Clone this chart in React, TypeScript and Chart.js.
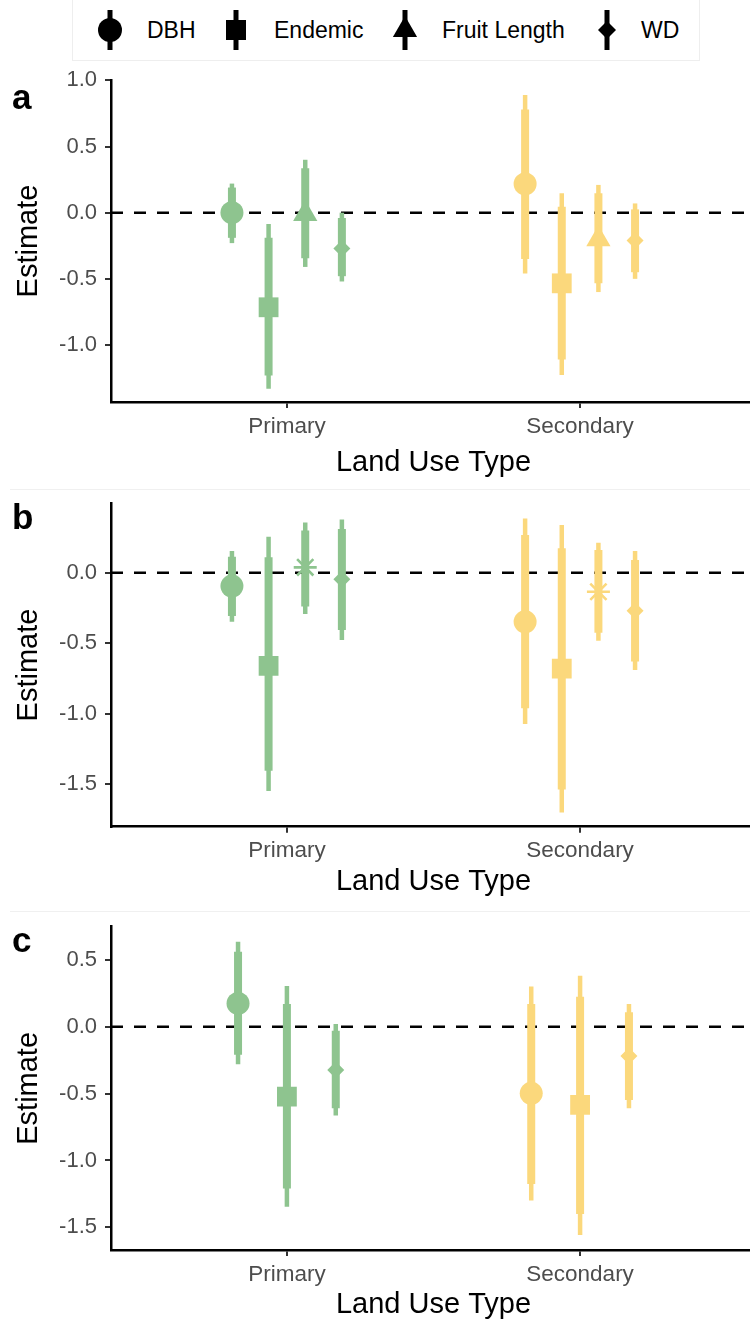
import React, { useEffect, useRef } from 'react';
import { Chart, registerables } from 'chart.js';

Chart.register(...registerables);

const FONT = '"Liberation Sans", Arial, Helvetica, sans-serif';

// ---------- shared categories ----------
const landUse = ['Primary', 'Secondary'];
const landUseColors = ['#8EC48F', '#FBD87C'];
const legendTraits = ['DBH', 'Endemic', 'Fruit Length', 'WD'];

// ---------- panel a (values per trait: [Primary, Secondary]) ----------
const aTraits = ['DBH', 'Endemic', 'Fruit Length', 'WD'];
const aShapes = ['circle', 'rect', 'triangle', 'rectRot'];
const aEst = [[0.0, 0.217], [-0.715, -0.534], [-0.01, -0.2], [-0.27, -0.21]];
const aInnerLo = [[-0.19, -0.35], [-1.23, -1.11], [-0.345, -0.534], [-0.48, -0.45]];
const aInnerHi = [[0.19, 0.78], [-0.19, 0.045], [0.335, 0.146], [-0.04, 0.025]];
const aOuterLo = [[-0.23, -0.46], [-1.33, -1.227], [-0.41, -0.6], [-0.52, -0.5]];
const aOuterHi = [[0.22, 0.89], [-0.086, 0.146], [0.4, 0.21], [0.0, 0.07]];
const aYTicks = [-1.0, -0.5, 0.0, 0.5, 1.0];

// ---------- panel b ----------
const bTraits = ['DBH', 'Endemic', 'Fruit Length', 'WD'];
const bShapes = ['circle', 'rect', 'star', 'rectRot'];
const bEst = [[-0.095, -0.348], [-0.66, -0.68], [0.038, -0.135], [-0.047, -0.27]];
const bInnerLo = [[-0.307, -0.962], [-1.404, -1.537], [-0.24, -0.425], [-0.407, -0.63]];
const bInnerHi = [[0.113, 0.267], [0.109, 0.173], [0.3, 0.16], [0.31, 0.09]];
const bOuterLo = [[-0.347, -1.073], [-1.548, -1.7], [-0.293, -0.482], [-0.478, -0.69]];
const bOuterHi = [[0.154, 0.385], [0.255, 0.338], [0.355, 0.213], [0.378, 0.154]];
const bYTicks = [-1.5, -1.0, -0.5, 0.0];

// ---------- panel c ----------
const cTraits = ['DBH', 'Endemic', 'WD'];
const cShapes = ['circle', 'rect', 'rectRot'];
const cEst = [[0.174, -0.498], [-0.523, -0.585], [-0.324, -0.219]];
const cInnerLo = [[-0.21, -1.176], [-1.21, -1.4], [-0.61, -0.548]];
const cInnerHi = [[0.56, 0.17], [0.17, 0.224], [-0.03, 0.107]];
const cOuterLo = [[-0.28, -1.3], [-1.345, -1.557], [-0.663, -0.61]];
const cOuterHi = [[0.635, 0.3], [0.304, 0.38], [0.02, 0.17]];
const cYTicks = [-1.5, -1.0, -0.5, 0.0, 0.5];

const shapeRadius: Record<string, number> = {
  circle: 11.5,
  rect: 14,
  triangle: 14,
  rectRot: 8.5,
  star: 11.5,
};

type PanelProps = {
  top: number;
  height: number;
  padTop: number;
  xAxisHeight: number;
  titlePadBottom: number;
  yMin: number;
  yMax: number;
  traits: string[];
  shapes: string[];
  est: number[][];
  innerLo: number[][];
  innerHi: number[][];
  outerLo: number[][];
  outerHi: number[][];
  yTicks: number[];
};

const CANVAS_W = 756;
const X_MIN = 0.4;
const X_MAX = 2.6;
const DODGE = 0.5;

function Panel(p: PanelProps) {
  const ref = useRef<HTMLCanvasElement | null>(null);
  useEffect(() => {
    if (!ref.current) return;
    const n = p.traits.length;
    const offs = p.traits.map((_, i) => -DODGE / 2 + (DODGE / n) * (i + 0.5));
    const datasets: any[] = [];
    // points (top)
    p.traits.forEach((t, ti) => {
      const style = p.shapes[ti];
      datasets.push({
        type: 'scatter',
        label: t,
        data: landUse.map((_, g) => ({ x: g + 1 + offs[ti], y: p.est[ti][g] })),
        pointStyle: style,
        pointRadius: shapeRadius[style],
        pointBackgroundColor: landUseColors,
        pointBorderColor: landUseColors,
        pointBorderWidth: style === 'star' ? 2.6 : 0,
        order: 0,
      });
    });
    // intervals
    p.traits.forEach((t, ti) => {
      landUse.forEach((_, g) => {
        const x = g + 1 + offs[ti];
        datasets.push({
          type: 'line',
          label: t + ' inner',
          data: [{ x, y: p.innerLo[ti][g] }, { x, y: p.innerHi[ti][g] }],
          borderColor: landUseColors[g],
          borderWidth: 8,
          borderCapStyle: 'butt',
          pointRadius: 0,
          order: 1,
        });
        datasets.push({
          type: 'line',
          label: t + ' outer',
          data: [{ x, y: p.outerLo[ti][g] }, { x, y: p.outerHi[ti][g] }],
          borderColor: landUseColors[g],
          borderWidth: 4.5,
          borderCapStyle: 'butt',
          pointRadius: 0,
          order: 2,
        });
      });
    });
    // zero reference
    datasets.push({
      type: 'line',
      label: 'zero',
      data: [{ x: X_MIN, y: 0 }, { x: X_MAX, y: 0 }],
      borderColor: '#000',
      borderWidth: 2.5,
      borderDash: [12, 11],
      borderCapStyle: 'butt',
      pointRadius: 0,
      order: 5,
    });

    const chart = new Chart(ref.current, {
      type: 'scatter',
      data: { datasets },
      options: {
        animation: false,
        responsive: false,
        maintainAspectRatio: false,
        events: [],
        layout: { autoPadding: false, padding: { top: p.padTop, left: 0, right: 0, bottom: 0 } },
        plugins: { legend: { display: false }, tooltip: { enabled: false } },
        scales: {
          x: {
            type: 'linear',
            min: X_MIN,
            max: X_MAX,
            afterBuildTicks: (s: any) => {
              s.ticks = landUse.map((_, i) => ({ value: i + 1 }));
            },
            afterFit: (s: any) => {
              s.height = p.xAxisHeight;
            },
            ticks: {
              autoSkip: false,
              maxRotation: 0,
              color: '#4D4D4D',
              font: { size: 22.5, family: FONT },
              padding: 5,
              callback: (v: any) => landUse[Math.round(Number(v)) - 1] ?? '',
            },
            grid: { drawOnChartArea: false, drawTicks: true, tickLength: 6, color: '#333', lineWidth: 2 },
            border: { display: true, color: '#000', width: 2.5 },
            title: {
              display: true,
              text: 'Land Use Type',
              color: '#000',
              font: { size: 29, family: FONT },
              padding: { top: 0, bottom: p.titlePadBottom },
            },
          },
          y: {
            type: 'linear',
            min: p.yMin,
            max: p.yMax,
            afterBuildTicks: (s: any) => {
              s.ticks = p.yTicks.map((v) => ({ value: v }));
            },
            afterFit: (s: any) => {
              s.width = 111;
            },
            ticks: {
              color: '#4D4D4D',
              font: { size: 22, family: FONT },
              padding: 8,
              callback: (v: any) => Number(v).toFixed(1),
            },
            grid: { drawOnChartArea: false, drawTicks: true, tickLength: 6, color: '#333', lineWidth: 2 },
            border: { display: true, color: '#000', width: 2.5 },
            title: {
              display: true,
              text: 'Estimate',
              color: '#000',
              font: { size: 29, family: FONT },
              padding: { top: 12, bottom: 0 },
            },
          },
        },
      } as any,
    });
    return () => chart.destroy();
  }, []);
  return (
    <canvas
      ref={ref}
      width={CANVAS_W}
      height={p.height}
      style={{ position: 'absolute', left: 0, top: p.top, width: CANVAS_W, height: p.height }}
    />
  );
}

function LegendSymbol({ shape }: { shape: string }) {
  let s: any = null;
  if (shape === 'circle') s = <circle cx={15} cy={30} r={12} fill="#000" />;
  if (shape === 'rect') s = <rect x={5} y={20} width={20} height={20} fill="#000" />;
  if (shape === 'triangle') s = <polygon points="15,16 27.1,37 2.9,37" fill="#000" />;
  if (shape === 'rectRot') s = <polygon points="15,21 24,30 15,39 6,30" fill="#000" />;
  return (
    <svg width={30} height={60} style={{ display: 'block' }}>
      <rect x={12.5} y={10} width={5} height={40} fill="#000" />
      {s}
    </svg>
  );
}

const legendSymbolX = [95, 221, 390, 592];
const legendTextX = [147, 274, 442, 641];
const legendShapes = ['circle', 'rect', 'triangle', 'rectRot'];

export default function App() {
  const panelLabel = (txt: string, top: number) => (
    <div
      style={{
        position: 'absolute',
        left: 12,
        top,
        fontFamily: FONT,
        fontWeight: 'bold',
        fontSize: 35,
        lineHeight: '35px',
        color: '#000',
      }}
    >
      {txt}
    </div>
  );
  return (
    <div
      style={{
        position: 'absolute',
        left: 0,
        top: 0,
        width: 750,
        height: 1320,
        overflow: 'hidden',
        background: '#fff',
      }}
    >
      {/* legend */}
      <div
        style={{
          position: 'absolute',
          left: 72,
          top: -1,
          width: 628,
          height: 62,
          border: '1px solid #eeeeee',
          boxSizing: 'border-box',
        }}
      />
      {legendTraits.map((t, i) => (
        <React.Fragment key={t}>
          <div style={{ position: 'absolute', left: legendSymbolX[i], top: 0 }}>
            <LegendSymbol shape={legendShapes[i]} />
          </div>
          <div
            style={{
              position: 'absolute',
              left: legendTextX[i],
              top: 0,
              height: 60,
              display: 'flex',
              alignItems: 'center',
              fontFamily: FONT,
              fontSize: 23,
              color: '#000',
              whiteSpace: 'nowrap',
            }}
          >
            {t}
          </div>
        </React.Fragment>
      ))}

      {/* faint panel separators */}
      <div style={{ position: 'absolute', left: 10, top: 489, width: 740, height: 1, background: '#f0f0f0' }} />
      <div style={{ position: 'absolute', left: 10, top: 911, width: 740, height: 1, background: '#f0f0f0' }} />

      <Panel
        top={58}
        height={428}
        padTop={22}
        xAxisHeight={84}
        titlePadBottom={5.6}
        yMin={-1.431}
        yMax={1.003}
        traits={aTraits}
        shapes={aShapes}
        est={aEst}
        innerLo={aInnerLo}
        innerHi={aInnerHi}
        outerLo={aOuterLo}
        outerHi={aOuterHi}
        yTicks={aYTicks}
      />
      <Panel
        top={481}
        height={424}
        padTop={22.3}
        xAxisHeight={78.3}
        titlePadBottom={5.6}
        yMin={-1.801}
        yMax={0.492}
        traits={bTraits}
        shapes={bShapes}
        est={bEst}
        innerLo={bInnerLo}
        innerHi={bInnerHi}
        outerLo={bOuterLo}
        outerHi={bOuterHi}
        yTicks={bYTicks}
      />
      <Panel
        top={904}
        height={416}
        padTop={22.7}
        xAxisHeight={70}
        titlePadBottom={-2}
        yMin={-1.669}
        yMax={0.747}
        traits={cTraits}
        shapes={cShapes}
        est={cEst}
        innerLo={cInnerLo}
        innerHi={cInnerHi}
        outerLo={cOuterLo}
        outerHi={cOuterHi}
        yTicks={cYTicks}
      />
      {panelLabel('a', 79)}
      {panelLabel('b', 499)}
      {panelLabel('c', 922)}
    </div>
  );
}
